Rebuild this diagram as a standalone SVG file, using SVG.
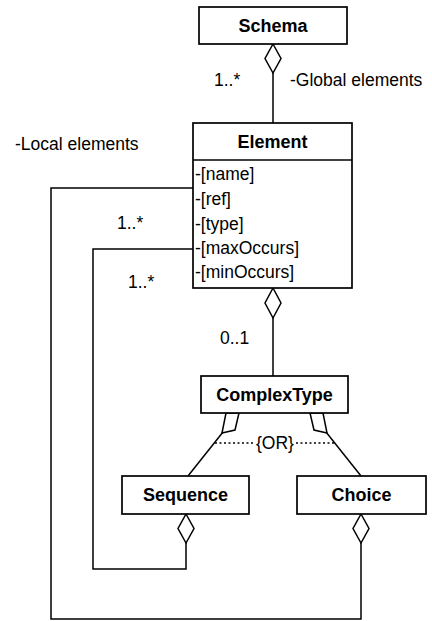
<svg xmlns="http://www.w3.org/2000/svg" width="432" height="621" viewBox="0 0 432 621">
<style>
.box{fill:#fff;stroke:#000;stroke-width:1.7}
.ln{fill:none;stroke:#000;stroke-width:1.5}
.dia{fill:#fff;stroke:#000;stroke-width:1.5}
.dot{fill:none;stroke:#000;stroke-width:1.7;stroke-dasharray:2 2.5}
.t{font-family:"Liberation Sans",Arial,sans-serif;font-size:17.5px;fill:#000}
.b{font-weight:bold;text-anchor:middle;font-size:18px}
</style>
<rect width="432" height="621" fill="#fff"/>
<g id="connectors">
<line class="ln" x1="273" y1="73" x2="273" y2="123"/>
<line class="ln" x1="273" y1="318" x2="273" y2="376"/>
<polyline class="ln" points="193,188 51,188 51,619 361,619 361,543"/>
<polyline class="ln" points="193,249 93,249 93,569 186,569 186,543"/>
<line class="ln" x1="223" y1="432" x2="188" y2="476"/>
<line class="ln" x1="326" y1="432" x2="361" y2="476"/>
<line class="dot" x1="215" y1="443" x2="254" y2="443"/>
<line class="dot" x1="296" y1="443" x2="334" y2="443"/>
<polygon class="dia" points="273,44 281,58.5 273,73 265,58.5"/>
<polygon class="dia" points="273,288 281,303 273,318 265,303"/>
<polygon class="dia" points="186,514 194,528.5 186,543 178,528.5"/>
<polygon class="dia" points="361,514 369,528.5 361,543 353,528.5"/>
<polygon class="dia" points="226,413 239,413 235,430 222,433"/>
<polygon class="dia" points="310,413 323,413 327,433 314,430"/>
<text class="t" x="214" y="86">1..*</text>
<text class="t" x="290" y="86">-Global elements</text>
<text class="t" x="15" y="150">-Local elements</text>
<text class="t" x="117" y="229">1..*</text>
<text class="t" x="128" y="288">1..*</text>
<text class="t" x="220" y="344">0..1</text>
<text class="t" x="275" y="449" text-anchor="middle">{OR}</text>
</g>
<g id="schema">
<rect class="box" x="199" y="7" width="148" height="37"/>
<text class="t b" x="273" y="32">Schema</text>
</g>
<g id="element">
<rect class="box" x="193" y="123" width="159" height="165"/>
<line class="ln" x1="193" y1="160" x2="352" y2="160"/>
<text class="t b" x="272.5" y="148">Element</text>
<text class="t" x="195" y="180">-[name]</text>
<text class="t" x="195" y="205">-[ref]</text>
<text class="t" x="195" y="230">-[type]</text>
<text class="t" x="195" y="254">-[maxOccurs]</text>
<text class="t" x="195" y="278">-[minOccurs]</text>
</g>
<g id="complextype">
<rect class="box" x="201" y="376" width="147" height="37"/>
<text class="t b" x="274.5" y="401">ComplexType</text>
</g>
<g id="sequence">
<rect class="box" x="122" y="476" width="127" height="38"/>
<text class="t b" x="185.5" y="501">Sequence</text>
</g>
<g id="choice">
<rect class="box" x="297" y="476" width="129" height="38"/>
<text class="t b" x="361.5" y="501">Choice</text>
</g>
</svg>
